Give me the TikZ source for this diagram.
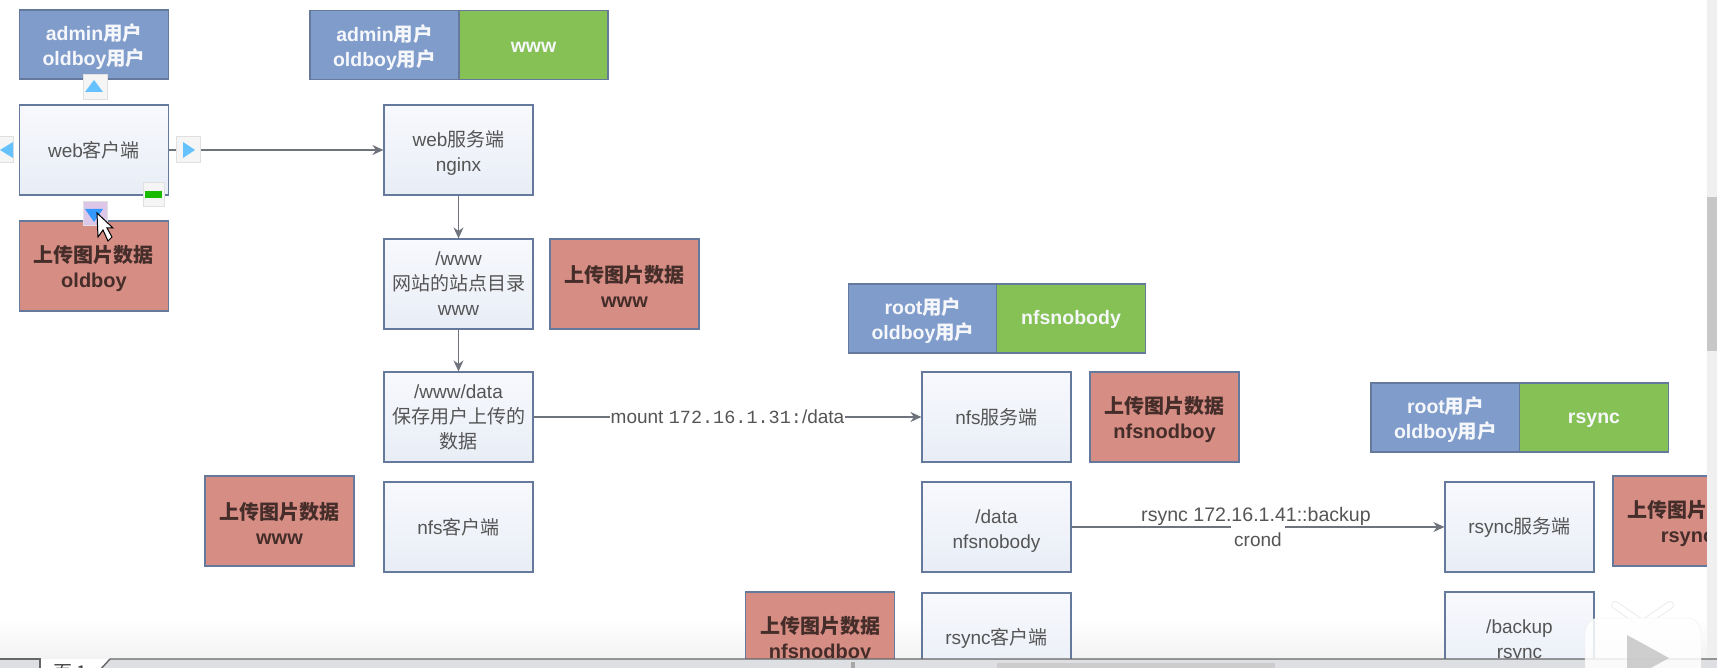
\documentclass[tikz,border=0pt]{standalone}
\usepackage{fontspec}
\setmainfont{Liberation Sans}
\setmonofont{Liberation Mono}
\newfontfamily\cjk{Noto Sans CJK SC}
\newcommand{\zh}[1]{{\cjk #1}}
\usetikzlibrary{arrows.meta}
\definecolor{boxline}{HTML}{64799C}
\definecolor{boxtop}{HTML}{F8F9FD}
\definecolor{boxbottom}{HTML}{E8EDF6}
\definecolor{userblue}{HTML}{7F9CCB}
\definecolor{usergreen}{HTML}{85C155}
\definecolor{datared}{HTML}{D68D84}
\definecolor{wire}{HTML}{6E737C}
\definecolor{inktext}{HTML}{555555}
\definecolor{barfill}{HTML}{DEDFE2}
\tikzset{
  stepbox/.style={draw=boxline, line width=1.2pt, top color=boxtop, bottom color=boxbottom, minimum width=149pt, minimum height=90pt, inner sep=0pt, align=center, text=inktext, font=\fontsize{19}{25}\selectfont},
  userbox/.style={draw=boxline, line width=1.2pt, fill=userblue, minimum width=149pt, minimum height=69pt, inner sep=0pt, align=center, text=white!92!userblue, font=\bfseries\fontsize{19.5}{25}\selectfont},
  ownerbox/.style={userbox, fill=usergreen, text height=16pt},
  databox/.style={draw=boxline, line width=1.2pt, fill=datared, minimum width=149pt, minimum height=90pt, inner sep=0pt, align=center, text=black!68!datared, font=\bfseries\fontsize{20}{25}\selectfont},
  twoline/.style={text height=47pt},
  linktext/.style={text=inktext, inner sep=0pt, font=\fontsize{19}{25}\selectfont},
  link/.style={draw=wire, line width=1.3pt, -{Stealth[length=11pt,width=10pt]}},
  hovericon/.style={draw=black!12, fill=black!4, line width=1pt},
  hovertip/.style={fill=blue!40!cyan!60}
}
\begin{document}
\begin{tikzpicture}[x=1pt, y=-1pt]
  \useasboundingbox (0, 0) rectangle (1717, 668);
  \clip (0, 0) rectangle (1717, 668);
  \fill[top color=white, bottom color=black!5] (0, 620) rectangle (1707, 659);
  % first column
  \node[userbox, twoline] (adminA) at (94, 44.5) {admin\zh{用户}\\oldboy\zh{用户}};
  \node[stepbox] (webclient) at (94, 150) {web\zh{客户端}};
  \node[databox, twoline] (redA) at (94, 266) {\zh{上传图片数据}\\oldboy};
  % web server column
  \node[userbox, twoline] (adminB) at (384.5, 45) {admin\zh{用户}\\oldboy\zh{用户}};
  \node[ownerbox] (wwwB) at (533.5, 45) {www};
  \node[stepbox, twoline] (webserver) at (458.5, 150) {web\zh{服务端}\\nginx};
  \node[stepbox] (wwwdir) at (458.5, 284) {/www\\\zh{网站的站点目录}\\www};
  \node[databox, twoline] (redB) at (624.5, 284) {\zh{上传图片数据}\\www};
  \node[stepbox] (wwwdata) at (458.5, 417) {/www/data\\\zh{保存用户上传的}\\\zh{数据}};
  \node[stepbox] (nfsclient) at (458.5, 527) {nfs\zh{客户端}};
  \node[databox, twoline] (redC) at (279.5, 521) {\zh{上传图片数据}\\www};
  % nfs column
  \node[userbox, twoline] (rootA) at (923, 318.5) {root\zh{用户}\\oldboy\zh{用户}};
  \node[ownerbox] (nfsA) at (1071, 318.5) {nfsnobody};
  \node[stepbox] (nfsserver) at (996.5, 417) {nfs\zh{服务端}};
  \node[databox, twoline] (redD) at (1164.5, 417) {\zh{上传图片数据}\\nfsnodboy};
  \node[stepbox, twoline] (datadir) at (996.5, 527) {/data\\nfsnobody};
  \node[stepbox] (rsyncclient) at (996.5, 638) {rsync\zh{客户端}};
  \node[databox, twoline] (redE) at (820, 637) {\zh{上传图片数据}\\nfsnodboy};
  % rsync column
  \node[userbox, twoline] (rootB) at (1445.5, 417.5) {root\zh{用户}\\oldboy\zh{用户}};
  \node[ownerbox] (rsyncA) at (1594, 417.5) {rsync};
  \node[stepbox] (rsyncserver) at (1519.5, 527) {rsync\zh{服务端}};
  \node[databox, twoline] (redF) at (1687.5, 521) {\zh{上传图片数据}\\rsync};
  \node[stepbox, twoline] (backupdir) at (1519.5, 637) {/backup\\rsync};
  % connectors
  \draw[link] (webclient) -- (webserver);
  \draw[link] (webserver) -- (wwwdir);
  \draw[link] (wwwdir) -- (wwwdata);
  \draw[link] (wwwdata) -- node[linktext, fill=white, inner xsep=1pt] {mount {\ttfamily\fontsize{18.5}{20}\selectfont 172.16.1.31:}/data} (nfsserver);
  \draw[link] (datadir) -- node[linktext, fill=white, inner xsep=3pt, inner ysep=8pt, yshift=-13pt] {crond} node[linktext, yshift=11pt, xshift=-2pt, scale=1.03] {rsync 172.16.1.41::backup} (rsyncserver);
  % hover icons
  \draw[hovericon] (83, 75) rectangle (107, 100);
  \fill[hovertip] (85, 92) -- (103, 92) -- (94, 80) -- cycle;
  \draw[hovericon] (176, 137) rectangle (200, 163);
  \fill[hovertip] (183, 142) -- (183, 158) -- (195, 150) -- cycle;
  \draw[hovericon] (-5, 137) rectangle (13, 163);
  \fill[hovertip] (13, 142) -- (13, 158) -- (0, 150) -- cycle;
  \draw[hovericon] (143, 183) rectangle (164, 207);
  \fill[green!70!black!90!yellow] (145, 191) rectangle (162, 198);
  \draw[hovericon, fill=blue!20!violet!22] (83, 202) rectangle (107, 226);
  \fill[blue!50!cyan!80] (85, 209) -- (103, 209) -- (94, 222) -- cycle;
  \filldraw[draw=black, fill=white, line width=1pt] (97, 213) -- (98, 237) -- (103, 230) -- (108, 241) -- (112, 237) -- (107, 228) -- (113, 228) -- cycle;
  % window edges
  \fill[black!6] (1707, 0) rectangle (1717, 668);
  \fill[black!22] (1707, 197) rectangle (1717, 351);
  \fill[barfill] (0, 659) rectangle (1717, 668);
  \fill[white] (40, 659) -- (40, 668) -- (100, 668) -- (110, 659) -- cycle;
  \draw[black!60, line width=1.4pt] (0, 659) -- (40, 659) -- (40, 668);
  \draw[black!60, line width=1.4pt] (100, 670) -- (110, 659) -- (1717, 659);
  \node[text=black!75, inner sep=0pt, font=\fontsize{19}{25}\selectfont] (tabname) at (70, 673) {\zh{页 1}};
  \fill[black!20] (997, 663) rectangle (1275, 668);
  \fill[black!35] (851, 662) rectangle (855, 668);
  % player badge
  \draw[black!8, line width=8pt, line cap=round] (1615, 605) -- (1640, 622);
  \draw[black!8, line width=8pt, line cap=round] (1670, 605) -- (1645, 622);
  \draw[white, line width=6pt, line cap=round] (1615, 605) -- (1640, 622);
  \draw[white, line width=6pt, line cap=round] (1670, 605) -- (1645, 622);
  \filldraw[draw=black!8, fill=white, fill opacity=0.85, rounded corners=14pt] (1585, 618) rectangle (1701, 690);
  \fill[black!25, opacity=0.75] (1627, 635) -- (1627, 681) -- (1669, 658) -- cycle;
\end{tikzpicture}
\end{document}
